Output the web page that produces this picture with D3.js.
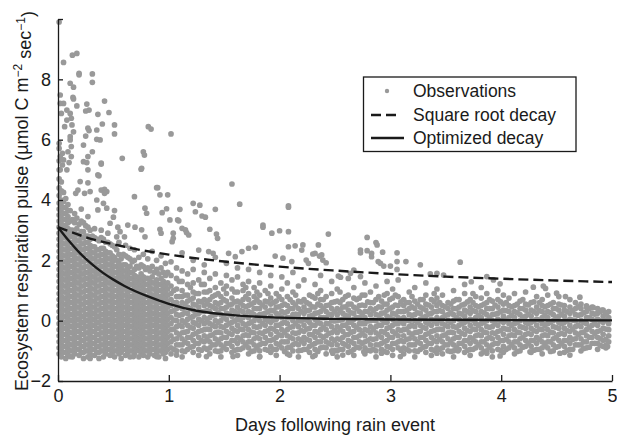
<!DOCTYPE html>
<html>
<head>
<meta charset="utf-8">
<script src="https://cdn.jsdelivr.net/npm/d3@7"></script>
<style>
body{margin:0;background:#fff}
text{font-family:"Liberation Sans",Arial,Helvetica,sans-serif;fill:#1a1a1a}
</style>
</head>
<body>
<svg id="chart" width="617" height="437"></svg>
<script>
// observations, days 0-1: [day, [pulse values read at that day]]
var obsDay0 = [
[0.01,[-1.1,-0.9,-0.7,-0.5,-0.3,-0.1,0.1,0.3,0.5,0.7,0.9,1.1,1.3,1.5,1.7,1.9,2.1,2.3,2.5,2.7,2.9,3.1,3.3,3.5,3.7,3.9,4.15,4.4,4.7,5.0,5.3]],
[0.03,[-1.2,-1.0,-0.8,-0.6,-0.4,-0.2,0,0.2,0.4,0.6,0.8,1.0,1.2,1.4,1.6,1.8,2.0,2.2,2.4,2.6,2.8,3.0,3.2,3.4,3.6,3.8,4.0,4.3,4.6]],
[0.05,[-1.05,-0.85,-0.65,-0.45,-0.25,-0.05,0.15,0.35,0.55,0.75,0.95,1.15,1.35,1.55,1.75,1.95,2.15,2.35,2.55,2.75,2.95,3.15,3.35,3.55,3.75,3.95,4.25]],
[0.07,[-1.25,-1.05,-0.85,-0.65,-0.45,-0.25,-0.05,0.15,0.35,0.55,0.75,0.95,1.15,1.35,1.55,1.75,1.95,2.15,2.35,2.55,2.75,2.95,3.15,3.35,3.55,3.75,4.05]],
[0.09,[-1.15,-0.95,-0.75,-0.55,-0.35,-0.15,0.05,0.25,0.45,0.65,0.85,1.05,1.25,1.45,1.65,1.85,2.05,2.25,2.45,2.65,2.85,3.05,3.25,3.45,3.65,3.85]],
[0.11,[-1.0,-0.8,-0.6,-0.4,-0.2,0,0.2,0.4,0.6,0.8,1.0,1.2,1.4,1.6,1.8,2.0,2.2,2.4,2.6,2.8,3.0,3.3,3.65]],
[0.13,[-1.2,-1.0,-0.8,-0.6,-0.4,-0.2,0,0.2,0.4,0.6,0.8,1.0,1.2,1.4,1.6,1.8,2.0,2.2,2.4,2.6,2.8,3.0,3.35]],
[0.15,[-1.1,-0.9,-0.7,-0.5,-0.3,-0.1,0.1,0.3,0.5,0.7,0.9,1.1,1.3,1.5,1.7,1.9,2.1,2.3,2.5,2.7,2.9,3.25,3.55]],
[0.17,[-0.95,-0.75,-0.55,-0.35,-0.15,0.05,0.25,0.45,0.65,0.85,1.05,1.25,1.45,1.65,1.85,2.05,2.25,2.45,2.65,2.85,3.05,3.4]],
[0.19,[-1.15,-0.95,-0.75,-0.55,-0.35,-0.15,0.05,0.25,0.45,0.65,0.85,1.05,1.25,1.45,1.65,1.85,2.05,2.25,2.45,2.65,2.85,3.2]],
[0.21,[-1.05,-0.85,-0.65,-0.45,-0.25,-0.05,0.15,0.35,0.55,0.75,0.95,1.15,1.35,1.55,1.75,1.95,2.15,2.35,2.55,2.75,2.95,3.3,3.7]],
[0.23,[-1.25,-1.05,-0.85,-0.65,-0.45,-0.25,-0.05,0.15,0.35,0.55,0.75,0.95,1.15,1.35,1.55,1.75,1.95,2.15,2.35,2.55,2.75,2.95,3.25]],
[0.25,[-1.0,-0.8,-0.6,-0.4,-0.2,0,0.2,0.4,0.6,0.8,1.0,1.2,1.4,1.6,1.8,2.0,2.2,2.4,2.6,2.8,3.15]],
[0.27,[-1.2,-1.0,-0.8,-0.6,-0.4,-0.2,0,0.2,0.4,0.6,0.8,1.0,1.2,1.4,1.6,1.8,2.0,2.2,2.4,2.6,2.8,3.1,3.45]],
[0.29,[-1.1,-0.9,-0.7,-0.5,-0.3,-0.1,0.1,0.3,0.5,0.7,0.9,1.1,1.3,1.5,1.7,1.9,2.1,2.3,2.5,2.7,3.0]],
[0.31,[-0.95,-0.75,-0.55,-0.35,-0.15,0.05,0.25,0.45,0.65,0.85,1.05,1.25,1.45,1.65,1.85,2.05,2.25,2.45,2.8]],
[0.33,[-1.15,-0.95,-0.75,-0.55,-0.35,-0.15,0.05,0.25,0.45,0.65,0.85,1.05,1.25,1.45,1.65,1.85,2.05,2.25,2.45,2.75,3.05]],
[0.35,[-1.05,-0.85,-0.65,-0.45,-0.25,-0.05,0.15,0.35,0.55,0.75,0.95,1.15,1.35,1.55,1.75,1.95,2.15,2.35,2.7]],
[0.37,[-1.25,-1.05,-0.85,-0.65,-0.45,-0.25,-0.05,0.15,0.35,0.55,0.75,0.95,1.15,1.35,1.55,1.75,1.95,2.15,2.35,2.65]],
[0.39,[-1.0,-0.8,-0.6,-0.4,-0.2,0,0.2,0.4,0.6,0.8,1.0,1.2,1.4,1.6,1.8,2.0,2.2,2.4,2.75,3.0]],
[0.41,[-1.2,-1.0,-0.8,-0.6,-0.4,-0.2,0,0.2,0.4,0.6,0.8,1.0,1.2,1.4,1.6,1.8,2.0,2.2,2.4,2.7]],
[0.43,[-1.1,-0.9,-0.7,-0.5,-0.3,-0.1,0.1,0.3,0.5,0.7,0.9,1.1,1.3,1.5,1.7,1.9,2.1,2.3,2.6]],
[0.45,[-0.95,-0.75,-0.55,-0.35,-0.15,0.05,0.25,0.45,0.65,0.85,1.05,1.25,1.45,1.65,1.85,2.05,2.25,2.6,2.9]],
[0.47,[-1.15,-0.95,-0.75,-0.55,-0.35,-0.15,0.05,0.25,0.45,0.65,0.85,1.05,1.25,1.45,1.65,1.85,2.05,2.25,2.55]],
[0.49,[-1.05,-0.85,-0.65,-0.45,-0.25,-0.05,0.15,0.35,0.55,0.75,0.95,1.15,1.35,1.55,1.75,1.95,2.15,2.5]],
[0.51,[-1.2,-1.0,-0.8,-0.6,-0.4,-0.2,0,0.2,0.4,0.6,0.8,1.0,1.2,1.4,1.6,1.8,2.1,2.45]],
[0.53,[-1.0,-0.8,-0.6,-0.4,-0.2,0,0.2,0.4,0.6,0.8,1.0,1.2,1.4,1.6,1.8,2.0,2.35]],
[0.55,[-1.1,-0.9,-0.7,-0.5,-0.3,-0.1,0.1,0.3,0.5,0.7,0.9,1.1,1.3,1.5,1.7,1.9,2.2,2.6]],
[0.57,[-1.25,-1.05,-0.85,-0.65,-0.45,-0.25,-0.05,0.15,0.35,0.55,0.75,0.95,1.15,1.35,1.55,1.75,2.05]],
[0.59,[-0.95,-0.75,-0.55,-0.35,-0.15,0.05,0.25,0.45,0.65,0.85,1.05,1.25,1.45,1.65,1.85,2.2]],
[0.61,[-1.15,-0.95,-0.75,-0.55,-0.35,-0.15,0.05,0.25,0.45,0.65,0.85,1.05,1.25,1.45,1.65,1.85,2.15,2.5]],
[0.63,[-1.05,-0.85,-0.65,-0.45,-0.25,-0.05,0.15,0.35,0.55,0.75,0.95,1.15,1.35,1.55,1.75,2.1]],
[0.65,[-1.2,-1.0,-0.8,-0.6,-0.4,-0.2,0,0.2,0.4,0.6,0.8,1.0,1.2,1.4,1.6,1.8,2.05,2.4]],
[0.67,[-1.0,-0.8,-0.6,-0.4,-0.2,0,0.2,0.4,0.6,0.8,1.0,1.2,1.4,1.6,1.95]],
[0.69,[-1.1,-0.9,-0.7,-0.5,-0.3,-0.1,0.1,0.3,0.5,0.7,0.9,1.1,1.3,1.5,1.7,2.0,2.35]],
[0.71,[-0.95,-0.75,-0.55,-0.35,-0.15,0.05,0.25,0.45,0.65,0.85,1.05,1.25,1.45,1.8]],
[0.73,[-1.2,-1.0,-0.8,-0.6,-0.4,-0.2,0,0.2,0.4,0.6,0.8,1.0,1.2,1.4,1.75,2.1]],
[0.75,[-1.05,-0.85,-0.65,-0.45,-0.25,-0.05,0.15,0.35,0.55,0.75,0.95,1.15,1.35,1.55,1.85]],
[0.77,[-1.15,-0.95,-0.75,-0.55,-0.35,-0.15,0.05,0.25,0.45,0.65,0.85,1.05,1.25,1.45,1.8,2.2]],
[0.79,[-1.0,-0.8,-0.6,-0.4,-0.2,0,0.2,0.4,0.6,0.8,1.0,1.2,1.4,1.7]],
[0.81,[-1.2,-1.0,-0.8,-0.6,-0.4,-0.2,0,0.2,0.4,0.6,0.8,1.0,1.2,1.4,1.75,2.05]],
[0.83,[-1.1,-0.9,-0.7,-0.5,-0.3,-0.1,0.1,0.3,0.5,0.7,0.9,1.1,1.3,1.65]],
[0.85,[-0.95,-0.75,-0.55,-0.35,-0.15,0.05,0.25,0.45,0.65,0.85,1.05,1.25,1.45,1.8,2.3]],
[0.87,[-1.15,-0.95,-0.75,-0.55,-0.35,-0.15,0.05,0.25,0.45,0.65,0.85,1.05,1.25,1.6]],
[0.89,[-1.05,-0.85,-0.65,-0.45,-0.25,-0.05,0.15,0.35,0.55,0.75,0.95,1.15,1.35,1.7,2.0]],
[0.91,[-1.2,-1.0,-0.8,-0.6,-0.4,-0.2,0,0.2,0.4,0.6,0.8,1.0,1.2,1.55]],
[0.93,[-1.0,-0.8,-0.6,-0.4,-0.2,0,0.2,0.4,0.6,0.8,1.0,1.2,1.4,1.75,2.15]],
[0.95,[-1.1,-0.9,-0.7,-0.5,-0.3,-0.1,0.1,0.3,0.5,0.7,0.9,1.1,1.3,1.6]],
[0.97,[-1.25,-1.05,-0.85,-0.65,-0.45,-0.25,-0.05,0.15,0.35,0.55,0.75,0.95,1.15,1.5,1.9]],
[0.99,[-0.95,-0.75,-0.55,-0.35,-0.15,0.05,0.25,0.45,0.65,0.85,1.05,1.25,1.6]]
];

// observations, days 1-3
var obsDays1to3 = [
[1.02,[-1.1,-0.9,-0.7,-0.5,-0.3,-0.1,0.1,0.3,0.5,0.7,0.9,1.15,1.5,1.95]],
[1.07,[-1.0,-0.8,-0.6,-0.4,-0.2,0,0.2,0.4,0.6,0.8,1.05,1.4,1.75]],
[1.12,[-1.2,-1.0,-0.8,-0.6,-0.4,-0.2,0,0.2,0.4,0.6,0.8,1.0,1.3,1.65,2.25]],
[1.17,[-0.95,-0.75,-0.55,-0.35,-0.15,0.05,0.25,0.45,0.65,0.85,1.2,1.55]],
[1.22,[-1.05,-0.85,-0.65,-0.45,-0.25,-0.05,0.15,0.35,0.55,0.75,0.95,1.25,1.7,2.0]],
[1.27,[-1.15,-0.95,-0.75,-0.55,-0.35,-0.15,0.05,0.25,0.45,0.65,0.9,1.35]],
[1.32,[-0.9,-0.7,-0.5,-0.3,-0.1,0.1,0.3,0.5,0.7,0.95,1.2,1.6,1.85]],
[1.37,[-1.1,-0.9,-0.7,-0.5,-0.3,-0.1,0.1,0.3,0.5,0.7,1.0,1.4]],
[1.42,[-1.0,-0.8,-0.6,-0.4,-0.2,0,0.2,0.4,0.6,0.85,1.1,1.55,2.1]],
[1.47,[-1.2,-1.0,-0.8,-0.6,-0.4,-0.2,0,0.2,0.4,0.6,0.8,1.25]],
[1.52,[-0.95,-0.75,-0.55,-0.35,-0.15,0.05,0.25,0.45,0.65,0.9,1.15,1.5,1.9]],
[1.57,[-1.05,-0.85,-0.65,-0.45,-0.25,-0.05,0.15,0.35,0.55,0.75,1.05,1.35]],
[1.62,[-1.15,-0.95,-0.75,-0.55,-0.35,-0.15,0.05,0.25,0.45,0.65,0.95,1.45,1.75]],
[1.67,[-0.9,-0.7,-0.5,-0.3,-0.1,0.1,0.3,0.5,0.7,1.0,1.2]],
[1.72,[-1.1,-0.9,-0.7,-0.5,-0.3,-0.1,0.1,0.3,0.5,0.7,0.9,1.3,1.7]],
[1.77,[-1.0,-0.8,-0.6,-0.4,-0.2,0,0.2,0.4,0.6,0.8,1.1]],
[1.82,[-1.2,-1.0,-0.8,-0.6,-0.4,-0.2,0,0.2,0.4,0.6,0.85,1.25,1.6]],
[1.87,[-0.95,-0.75,-0.55,-0.35,-0.15,0.05,0.25,0.45,0.65,1.0]],
[1.92,[-1.05,-0.85,-0.65,-0.45,-0.25,-0.05,0.15,0.35,0.55,0.75,1.15,1.5]],
[1.97,[-1.15,-0.95,-0.75,-0.55,-0.35,-0.15,0.05,0.25,0.45,0.65,0.9]],
[2.02,[-0.9,-0.7,-0.5,-0.3,-0.1,0.1,0.3,0.5,0.7,1.05,1.45]],
[2.07,[-1.1,-0.9,-0.7,-0.5,-0.3,-0.1,0.1,0.3,0.5,0.8,1.25]],
[2.12,[-1.0,-0.8,-0.6,-0.4,-0.2,0,0.2,0.4,0.6,0.95,1.6]],
[2.17,[-1.2,-1.0,-0.8,-0.6,-0.4,-0.2,0,0.2,0.4,0.65,1.15]],
[2.22,[-0.95,-0.75,-0.55,-0.35,-0.15,0.05,0.25,0.45,0.7,1.35]],
[2.27,[-1.05,-0.85,-0.65,-0.45,-0.25,-0.05,0.15,0.35,0.55,0.85]],
[2.32,[-1.15,-0.95,-0.75,-0.55,-0.35,-0.15,0.05,0.25,0.45,0.75,1.2]],
[2.37,[-0.9,-0.7,-0.5,-0.3,-0.1,0.1,0.3,0.5,0.7,1.0,1.5]],
[2.42,[-1.1,-0.9,-0.7,-0.5,-0.3,-0.1,0.1,0.3,0.5,0.8]],
[2.47,[-1.0,-0.8,-0.6,-0.4,-0.2,0,0.2,0.4,0.6,0.9,1.3]],
[2.52,[-1.2,-1.0,-0.8,-0.6,-0.4,-0.2,0,0.2,0.4,0.65,1.05]],
[2.57,[-0.95,-0.75,-0.55,-0.35,-0.15,0.05,0.25,0.45,0.7]],
[2.62,[-1.05,-0.85,-0.65,-0.45,-0.25,-0.05,0.15,0.35,0.55,0.85,1.4]],
[2.67,[-1.15,-0.95,-0.75,-0.55,-0.35,-0.15,0.05,0.25,0.45,0.75,1.1]],
[2.72,[-0.9,-0.7,-0.5,-0.3,-0.1,0.1,0.3,0.5,0.75]],
[2.77,[-1.1,-0.9,-0.7,-0.5,-0.3,-0.1,0.1,0.3,0.5,0.85,1.25]],
[2.82,[-1.0,-0.8,-0.6,-0.4,-0.2,0,0.2,0.4,0.6,0.95]],
[2.87,[-1.2,-1.0,-0.8,-0.6,-0.4,-0.2,0,0.2,0.4,0.7,1.15]],
[2.92,[-0.95,-0.75,-0.55,-0.35,-0.15,0.05,0.25,0.45,0.65]],
[2.97,[-1.05,-0.85,-0.65,-0.45,-0.25,-0.05,0.15,0.35,0.55,0.9,1.3]]
];

// observations between those columns, days 1-3
var obsDays1to3b = [
[1.045,[-0.95,-0.62,-0.28,0.02,0.33,0.6,1.0]],
[1.095,[-0.8,-0.47,-0.15,0.18,0.46,0.8,1.3]],
[1.145,[-1.02,-0.7,-0.38,-0.05,0.26,0.55,0.85]],
[1.195,[-0.88,-0.55,-0.22,0.1,0.4,0.7,1.1]],
[1.245,[-0.75,-0.42,-0.1,0.22,0.52,0.9]],
[1.295,[-0.98,-0.66,-0.33,-0.01,0.3,0.62,1.2]],
[1.345,[-0.95,-0.62,-0.28,0.02,0.33,0.6,0.95]],
[1.395,[-0.8,-0.47,-0.15,0.18,0.46,0.8]],
[1.445,[-1.02,-0.7,-0.38,-0.05,0.26,0.55,0.9]],
[1.495,[-0.88,-0.55,-0.22,0.1,0.4,0.7,1.05]],
[1.545,[-0.75,-0.42,-0.1,0.22,0.52]],
[1.595,[-0.98,-0.66,-0.33,-0.01,0.3,0.62,0.95]],
[1.645,[-0.95,-0.62,-0.28,0.02,0.33,0.6]],
[1.695,[-0.8,-0.47,-0.15,0.18,0.46,0.8,1.1]],
[1.745,[-1.02,-0.7,-0.38,-0.05,0.26,0.55]],
[1.795,[-0.88,-0.55,-0.22,0.1,0.4,0.7,0.95]],
[1.845,[-0.75,-0.42,-0.1,0.22,0.52]],
[1.895,[-0.98,-0.66,-0.33,-0.01,0.3,0.62,0.9]],
[1.945,[-0.95,-0.62,-0.28,0.02,0.33,0.6]],
[1.995,[-0.8,-0.47,-0.15,0.18,0.46,0.8]],
[2.045,[-1.02,-0.7,-0.38,-0.05,0.26,0.55]],
[2.095,[-0.88,-0.55,-0.22,0.1,0.4,0.7]],
[2.145,[-0.75,-0.42,-0.1,0.22,0.52,0.85]],
[2.195,[-0.98,-0.66,-0.33,-0.01,0.3,0.62]],
[2.245,[-0.95,-0.62,-0.28,0.02,0.33,0.6]],
[2.295,[-0.8,-0.47,-0.15,0.18,0.46,0.8]],
[2.345,[-1.02,-0.7,-0.38,-0.05,0.26,0.55,0.9]],
[2.395,[-0.88,-0.55,-0.22,0.1,0.4,0.7]],
[2.445,[-0.75,-0.42,-0.1,0.22,0.52]],
[2.495,[-0.98,-0.66,-0.33,-0.01,0.3,0.62]],
[2.545,[-0.95,-0.62,-0.28,0.02,0.33,0.6,0.95]],
[2.595,[-0.8,-0.47,-0.15,0.18,0.46,0.8]],
[2.645,[-1.02,-0.7,-0.38,-0.05,0.26,0.55]],
[2.695,[-0.88,-0.55,-0.22,0.1,0.4,0.7]],
[2.745,[-0.75,-0.42,-0.1,0.22,0.52,0.85]],
[2.795,[-0.98,-0.66,-0.33,-0.01,0.3,0.62]],
[2.845,[-0.95,-0.62,-0.28,0.02,0.33,0.6]],
[2.895,[-0.8,-0.47,-0.15,0.18,0.46,0.8]],
[2.945,[-1.02,-0.7,-0.38,-0.05,0.26,0.55,0.85]],
[2.995,[-0.88,-0.55,-0.22,0.1,0.4,0.7]]
];

// observations, days 3-5
var obsDays3to5 = [
[3.02,[-1.15,-0.95,-0.75,-0.55,-0.35,-0.15,0.05,0.25,0.45,0.75,1.05]],
[3.07,[-0.9,-0.7,-0.5,-0.3,-0.1,0.1,0.3,0.5,0.8,1.35]],
[3.12,[-1.1,-0.9,-0.7,-0.5,-0.3,-0.1,0.1,0.3,0.5,0.7]],
[3.17,[-1.0,-0.8,-0.6,-0.4,-0.2,0,0.2,0.4,0.6,0.95]],
[3.22,[-1.2,-1.0,-0.8,-0.6,-0.4,-0.2,0,0.2,0.4,0.65,1.1]],
[3.27,[-0.95,-0.75,-0.55,-0.35,-0.15,0.05,0.25,0.45,0.7]],
[3.32,[-1.05,-0.85,-0.65,-0.45,-0.25,-0.05,0.15,0.35,0.55,0.85,1.25]],
[3.37,[-1.15,-0.95,-0.75,-0.55,-0.35,-0.15,0.05,0.25,0.45,0.7]],
[3.42,[-0.9,-0.7,-0.5,-0.3,-0.1,0.1,0.3,0.5,0.75,1.05]],
[3.47,[-1.1,-0.9,-0.7,-0.5,-0.3,-0.1,0.1,0.3,0.5,0.85]],
[3.52,[-1.0,-0.8,-0.6,-0.4,-0.2,0,0.2,0.4,0.6]],
[3.57,[-1.2,-1.0,-0.8,-0.6,-0.4,-0.2,0,0.2,0.4,0.65,1.0]],
[3.62,[-0.95,-0.75,-0.55,-0.35,-0.15,0.05,0.25,0.45,0.7]],
[3.67,[-1.05,-0.85,-0.65,-0.45,-0.25,-0.05,0.15,0.35,0.55,0.9,1.2]],
[3.72,[-1.15,-0.95,-0.75,-0.55,-0.35,-0.15,0.05,0.25,0.45,0.7]],
[3.77,[-0.9,-0.7,-0.5,-0.3,-0.1,0.1,0.3,0.5,0.8]],
[3.82,[-1.1,-0.9,-0.7,-0.5,-0.3,-0.1,0.1,0.3,0.5,0.75,1.1]],
[3.87,[-1.0,-0.8,-0.6,-0.4,-0.2,0,0.2,0.4,0.6,0.9]],
[3.92,[-1.2,-1.0,-0.8,-0.6,-0.4,-0.2,0,0.2,0.4,0.65]],
[3.97,[-0.95,-0.75,-0.55,-0.35,-0.15,0.05,0.25,0.45,0.7,1.0]],
[4.02,[-1.05,-0.85,-0.65,-0.45,-0.25,-0.05,0.15,0.35,0.55,0.85]],
[4.07,[-0.9,-0.7,-0.5,-0.3,-0.1,0.1,0.3,0.5,0.75]],
[4.12,[-1.1,-0.9,-0.7,-0.5,-0.3,-0.1,0.1,0.3,0.5,0.9]],
[4.17,[-1.0,-0.8,-0.6,-0.4,-0.2,0,0.2,0.4,0.65]],
[4.22,[-0.85,-0.65,-0.45,-0.25,-0.05,0.15,0.35,0.55,0.95]],
[4.27,[-1.05,-0.85,-0.65,-0.45,-0.25,-0.05,0.15,0.35,0.6]],
[4.32,[-0.95,-0.75,-0.55,-0.35,-0.15,0.05,0.25,0.45,0.8]],
[4.37,[-1.1,-0.9,-0.7,-0.5,-0.3,-0.1,0.1,0.3,0.5,0.7]],
[4.42,[-0.9,-0.7,-0.5,-0.3,-0.1,0.1,0.3,0.5,0.85]],
[4.47,[-1.0,-0.8,-0.6,-0.4,-0.2,0,0.2,0.4,0.6]],
[4.52,[-0.85,-0.65,-0.45,-0.25,-0.05,0.15,0.35,0.55,0.8]],
[4.57,[-1.05,-0.85,-0.65,-0.45,-0.25,-0.05,0.15,0.35,0.5]],
[4.62,[-0.95,-0.75,-0.55,-0.35,-0.15,0.05,0.25,0.45,0.7]],
[4.67,[-0.8,-0.6,-0.4,-0.2,0,0.2,0.4,0.6]],
[4.72,[-1.0,-0.8,-0.6,-0.4,-0.2,0,0.2,0.4,0.55]],
[4.77,[-0.9,-0.7,-0.5,-0.3,-0.1,0.1,0.3,0.45]],
[4.82,[-0.75,-0.55,-0.35,-0.15,0.05,0.25,0.45]],
[4.87,[-0.95,-0.75,-0.55,-0.35,-0.15,0.05,0.25,0.4]],
[4.92,[-0.85,-0.65,-0.45,-0.25,-0.05,0.15,0.35]],
[4.97,[-0.7,-0.5,-0.3,-0.1,0.1,0.3]]
];

// observations between those columns, days 3-5
var obsDays3to5b = [
[3.045,[-0.75,-0.42,-0.1,0.22,0.52,0.85]],
[3.095,[-0.98,-0.66,-0.33,-0.01,0.3,0.62]],
[3.145,[-0.95,-0.62,-0.28,0.02,0.33,0.6]],
[3.195,[-0.8,-0.47,-0.15,0.18,0.46,0.8]],
[3.245,[-1.02,-0.7,-0.38,-0.05,0.26,0.55]],
[3.295,[-0.88,-0.55,-0.22,0.1,0.4,0.7]],
[3.345,[-0.75,-0.42,-0.1,0.22,0.52]],
[3.395,[-0.98,-0.66,-0.33,-0.01,0.3,0.62,0.9]],
[3.445,[-0.95,-0.62,-0.28,0.02,0.33,0.6]],
[3.495,[-0.8,-0.47,-0.15,0.18,0.46]],
[3.545,[-1.02,-0.7,-0.38,-0.05,0.26,0.55]],
[3.595,[-0.88,-0.55,-0.22,0.1,0.4,0.7]],
[3.645,[-0.75,-0.42,-0.1,0.22,0.52]],
[3.695,[-0.98,-0.66,-0.33,-0.01,0.3,0.62]],
[3.745,[-0.95,-0.62,-0.28,0.02,0.33,0.6,0.9]],
[3.795,[-0.8,-0.47,-0.15,0.18,0.46]],
[3.845,[-1.02,-0.7,-0.38,-0.05,0.26,0.55]],
[3.895,[-0.88,-0.55,-0.22,0.1,0.4,0.7]],
[3.945,[-0.75,-0.42,-0.1,0.22,0.52]],
[3.995,[-0.98,-0.66,-0.33,-0.01,0.3,0.62]],
[4.045,[-0.95,-0.62,-0.28,0.02,0.33,0.6]],
[4.095,[-0.8,-0.47,-0.15,0.18,0.46]],
[4.145,[-1.02,-0.7,-0.38,-0.05,0.26,0.55]],
[4.195,[-0.88,-0.55,-0.22,0.1,0.4,0.7]],
[4.245,[-0.75,-0.42,-0.1,0.22,0.52]],
[4.295,[-0.98,-0.66,-0.33,-0.01,0.3,0.62]],
[4.345,[-0.95,-0.62,-0.28,0.02,0.33,0.6]],
[4.395,[-0.8,-0.47,-0.15,0.18,0.46]],
[4.445,[-1.02,-0.7,-0.38,-0.05,0.26,0.55]],
[4.495,[-0.88,-0.55,-0.22,0.1,0.4]],
[4.545,[-0.75,-0.42,-0.1,0.22,0.52]],
[4.595,[-0.98,-0.66,-0.33,-0.01,0.3]],
[4.645,[-0.95,-0.62,-0.28,0.02,0.33]],
[4.695,[-0.8,-0.47,-0.15,0.18,0.46]],
[4.745,[-0.92,-0.7,-0.38,-0.05,0.26]],
[4.795,[-0.88,-0.55,-0.22,0.1,0.4]],
[4.845,[-0.75,-0.42,-0.1,0.22]],
[4.895,[-0.82,-0.6,-0.33,-0.01,0.3]],
[4.945,[-0.9,-0.62,-0.28,0.02,0.25]]
];

// scattered observations away from the dense band: [day, pulse]
var obsScattered = [
[0.01,9.9],[0.05,8.56],[0.13,8.8],[0.17,8.86],[0.19,8.2],[0.19,8.15],[0.31,8.18],[0.31,7.9],
[0.11,7.87],[0.14,7.74],[0.02,7.48],[0.135,7.4],[0.14,7.35],[0.05,7.2],[0.02,7.2],[0.17,7.12],
[0.26,7.18],[0.25,6.95],[0.28,6.98],[0.42,7.28],[0.46,6.9],[0.36,6.84],[0.08,6.98],[0.11,6.87],
[0.12,6.71],[0.03,6.87],[0.08,6.65],[0.06,6.43],[0.40,6.52],[0.51,6.49],[0.51,6.19],[0.27,6.38],
[0.28,6.3],[0.35,6.32],[0.126,6.49],[0.14,6.26],[0.11,6.1],[0.815,6.43],[0.84,6.35],[1.02,6.19],
[0.25,6.12],[0.35,6.01],[0.38,5.99],[0.01,5.88],[0.01,5.71],[0.04,5.55],[0.02,5.44],[0.05,5.33],
[0.04,5.16],[0.02,5.0],[0.11,5.99],[0.12,5.77],[0.09,5.6],[0.12,5.44],[0.1,5.24],[0.08,5.0],
[0.23,5.82],[0.31,5.6],[0.23,5.27],[0.26,5.24],[0.27,5.44],[0.39,5.22],[0.58,5.38],[0.77,5.6],
[0.78,5.49],[0.755,5.05],[0.37,4.8],[0.2,4.61],[0.27,4.57],[0.16,4.22],[0.18,4.33],[0.24,4.22],
[0.29,4.28],[0.42,4.35],[0.44,4.28],[0.9,4.41],[0.69,4.11],[0.92,4.17],[0.99,4.17],[1.57,4.53],
[1.64,3.86],[2.08,3.81],[2.08,3.76],[1.22,3.89],[1.28,3.83],[1.42,3.69],[1.10,3.69],[0.785,3.73],
[0.8,3.56],[0.94,3.58],[0.98,3.71],[1.24,3.61],[1.30,3.47],[1.33,3.43],[1.08,3.34],[0.51,3.65],
[0.75,5.02],[0.39,5.19],[0.27,5.0],[0.36,4.83],[0.89,4.41],[1.01,3.34],[1.09,3.31],[1.37,3.03],
[1.43,2.87],[1.44,2.73],[1.85,3.17],[1.85,3.1],[1.93,2.90],[2.0,2.98],[2.08,2.95],[1.12,3.06],
[1.15,3.01],[1.16,2.92],[1.18,2.84],[1.04,2.9],[1.04,2.73],[1.03,2.62],[0.92,3.03],[0.93,2.9],
[0.63,3.17],[0.695,3.1],[0.755,3.01],[0.785,2.78],[0.54,3.1],[0.56,2.95],[0.6,2.78],[0.53,2.78],
[0.47,3.23],[0.5,3.43],[0.44,3.73],[0.36,3.67],[0.39,4.33],[0.35,4.0],[0.42,4.22],[0.41,3.89],
[1.66,2.29],[1.72,2.4],[1.78,2.43],[2.08,2.45],[2.14,2.48],[2.21,2.51],[2.2,2.34],[2.35,2.51],
[2.38,2.18],[1.96,2.14],[2.03,2.07],[2.11,1.96],[2.32,2.23],[1.54,2.23],[1.6,2.12],[1.27,2.34],
[1.36,2.29],[1.40,2.23],[2.44,2.87],[2.79,2.76],[2.87,2.59],[2.88,2.51],[2.73,2.34],[2.73,2.25],
[2.79,2.32],[2.83,2.23],[2.83,2.12],[2.93,2.27],[3.06,2.25],[2.89,1.96],[2.91,1.9],[2.94,1.81],
[3.0,1.81],[3.06,1.96],[3.14,1.96],[3.06,1.7],[3.27,1.85],[3.63,1.94],[2.30,2.21],[2.36,2.14],
[2.39,2.01],[2.42,1.92],[2.24,2.01],[2.26,1.9],[3.42,1.57],[3.48,1.51],[3.36,1.55],[3.87,1.46],
[3.93,1.35],[3.99,1.22],[3.73,1.29],[4.38,1.15],[4.29,1.11],[2.73,1.46],[2.53,1.48],[2.55,1.44],
[2.64,1.57],[2.67,1.68],[4.40,1.07],[4.5,0.91],[4.58,0.8],[4.71,0.78],[4.77,0.49],[4.83,0.44],
[4.91,0.35],[4.95,0.25],[4.95,-0.8],[4.96,-0.86],[4.62,-1.14],[4.53,-1.08],[4.26,-1.03],[3.99,-1.17],
[3.87,-1.08],[3.61,-1.0],[3.42,-1.08],[3.09,-1.19],[2.92,-1.08],[2.76,-1.03],[2.57,-1.14],[2.48,-1.08],
[2.30,-1.19],[0.11,-1.19],[0.29,-1.25],[0.47,-1.14],[0.68,-1.19],[0.89,-1.19],[1.07,-1.14],[1.34,-1.19],
[1.58,-1.19],[1.82,-1.19],[2.09,-1.14]
];

// square root decay curve
var sqrtDays = [0,0.1,0.25,0.5,0.75,1,1.5,2,2.5,3,3.5,4,4.5,5];
var sqrtPulse = [3.1,2.96,2.77,2.53,2.34,2.19,1.96,1.79,1.66,1.55,1.46,1.39,1.33,1.28];

// optimized decay curve
var optDays = [0,0.1,0.2,0.3,0.4,0.5,0.6,0.8,1,1.25,1.5,2,2.5,3,4,5];
var optPulse = [3.1,2.64,2.23,1.89,1.6,1.36,1.15,0.82,0.56,0.33,0.21,0.1,0.06,0.04,0.02,0.01];

var xTicks = [0,1,2,3,4,5];
var yTicks = [-2,0,2,4,6,8,10];

var legendItems = ['Observations','Square root decay','Optimized decay'];

var svg = d3.select('#chart');
var x = d3.scaleLinear().domain([0,5]).range([58,612]);
var y = d3.scaleLinear().domain([-2,10]).range([381,19]);

var points = [];
[obsDay0, obsDays1to3, obsDays1to3b, obsDays3to5, obsDays3to5b].forEach(function(cols){
  cols.forEach(function(c){
    c[1].forEach(function(v){ points.push([c[0], v]); });
  });
});
obsScattered.forEach(function(p){ points.push(p); });

svg.append('g').attr('class','obs')
  .selectAll('circle').data(points).enter().append('circle')
  .attr('cx', function(d){ return x(d[0]); })
  .attr('cy', function(d){ return y(d[1]); })
  .attr('r', 2.85)
  .attr('fill', '#999999');

var line = d3.line()
  .x(function(d){ return x(d[0]); })
  .y(function(d){ return y(d[1]); })
  .curve(d3.curveMonotoneX);

svg.append('path')
  .datum(d3.zip(sqrtDays, sqrtPulse))
  .attr('d', line)
  .attr('fill','none').attr('stroke','#1a1a1a').attr('stroke-width',2.4)
  .attr('stroke-dasharray','10,5');

svg.append('path')
  .datum(d3.zip(optDays, optPulse))
  .attr('d', line)
  .attr('fill','none').attr('stroke','#1a1a1a').attr('stroke-width',2.4);

// axes
var fmt = d3.format('d');
var xAxis = svg.append('g').attr('transform','translate(0,381)')
  .call(d3.axisBottom(x).tickValues(xTicks).tickFormat(fmt)
    .tickSizeInner(-6).tickSizeOuter(0).tickPadding(8));
var yAxis = svg.append('g').attr('transform','translate(58,0)')
  .call(d3.axisLeft(y).tickValues(yTicks).tickSizeInner(-5).tickSizeOuter(0).tickPadding(7)
    .tickFormat(function(d){ return d === 10 ? '' : fmt(d); }));
[xAxis, yAxis].forEach(function(a){
  a.selectAll('path,line').attr('stroke','#1a1a1a').attr('stroke-width',1.3);
  a.selectAll('text').attr('font-size',18).attr('font-family','"Liberation Sans",Arial,sans-serif').attr('fill','#1a1a1a');
});

svg.append('text')
  .attr('x', 335).attr('y', 431)
  .attr('text-anchor','middle').attr('font-size',18)
  .text('Days following rain event');

var yl = svg.append('text')
  .attr('transform','translate(28,201) rotate(-90)')
  .attr('text-anchor','middle').attr('font-size',18);
yl.append('tspan').text('Ecosystem respiration pulse (\u00b5mol C m');
yl.append('tspan').attr('dy','-0.5em').attr('font-size',12).text('\u22122');
yl.append('tspan').attr('dy','0.5em').text(' sec');
yl.append('tspan').attr('dy','-0.5em').attr('font-size',12).text('\u22121');
yl.append('tspan').attr('dy','0.5em').text(')');

// legend
var lg = svg.append('g');
lg.append('rect').attr('x',363.5).attr('y',77).attr('width',212.5).attr('height',74.5)
  .attr('fill','#fff').attr('stroke','#1a1a1a').attr('stroke-width',1.3);
var rowY = [91, 115, 138];
lg.append('circle').attr('cx',387).attr('cy',rowY[0]).attr('r',2.2).attr('fill','#999999');
lg.append('line').attr('x1',371).attr('x2',401).attr('y1',rowY[1]).attr('y2',rowY[1])
  .attr('stroke','#1a1a1a').attr('stroke-width',2.4).attr('stroke-dasharray','10,5');
lg.append('line').attr('x1',371).attr('x2',404).attr('y1',rowY[2]).attr('y2',rowY[2])
  .attr('stroke','#1a1a1a').attr('stroke-width',2.4);
lg.selectAll('text.item').data(legendItems).enter().append('text')
  .attr('class','item')
  .attr('x',413).attr('y',function(d,i){ return rowY[i]; })
  .attr('dy','0.35em').attr('font-size',17.5)
  .text(function(d){ return d; });
</script>
</body>
</html>
